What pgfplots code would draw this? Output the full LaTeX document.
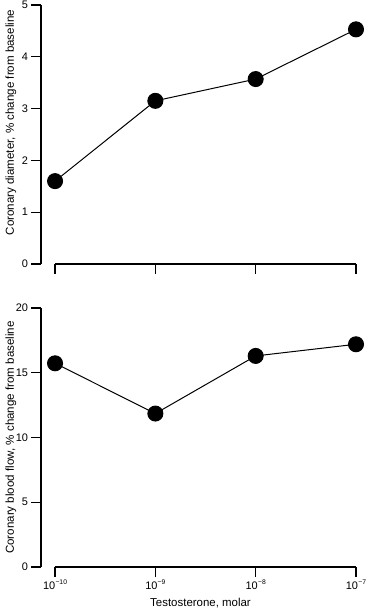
\documentclass[border=0pt]{standalone}
\usepackage{fontspec}
\setmainfont{Liberation Sans}
\usepackage{pgfplots}
\pgfplotsset{compat=1.18}
\newcommand{\tp}[1]{10\kern0.3pt\raisebox{0.45em}{\fontsize{6.8}{7}\selectfont #1}}
\begin{document}
\begin{tikzpicture}[font=\fontsize{11}{13}\selectfont]
\pgfplotsset{
 panel/.style={
  scale only axis, width=315bp, height=259bp,
  xmin=-10.14, xmax=-7,
  axis x line*=bottom, axis y line*=left,
  axis line style={-, line width=1.1bp},
  x axis line style={shorten <=14.05bp},
  tick align=outside, major tick length=9.5bp,
  tick style={line width=1.1bp, black},
  xtick={-10,-9,-8,-7},
  clip=false,
  /pgf/number format/assume math mode=true,
  tick label style={font=\fontsize{11}{13}\selectfont},
  xticklabel style={inner xsep=0pt},
  every axis y label/.style={at={(axis description cs:0,0.5)}, rotate=90, anchor=center, yshift=30bp, font=\fontsize{11.6}{14}\selectfont},
  every axis x label/.style={at={(axis description cs:0.5,0)}, anchor=center, yshift=-36bp, xshift=2bp, font=\fontsize{11.5}{13}\selectfont},
 },
 pl/.style={black, line width=1bp, mark=*, mark size=7.5bp, mark options={fill=black, solid}},
}
\path[use as bounding box] (-41bp,-346bp) rectangle (325bp,264bp);
\begin{axis}[panel, name=top, at={(0,0)}, anchor=south west,
  ymin=0, ymax=5, ytick={0,1,2,3,4,5},
  xticklabels={},
  ylabel style={xshift=12bp},
  ylabel={Coronary diameter, \% change from baseline}]
\addplot[pl] coordinates {(-10,1.60) (-9,3.15) (-8,3.57) (-7,4.53)};
\end{axis}
\begin{axis}[panel, at={(0,-303bp)}, anchor=south west,
  ymin=0, ymax=20, ytick={0,5,10,15,20},
  xticklabels={\tp{−10},\tp{−9},\tp{−8},\tp{−7}},
  xlabel={Testosterone, molar},
  ylabel={Coronary blood flow, \% change from baseline}]
\addplot[pl] coordinates {(-10,15.73) (-9,11.85) (-8,16.30) (-7,17.2)};
\end{axis}
\end{tikzpicture}
\end{document}
